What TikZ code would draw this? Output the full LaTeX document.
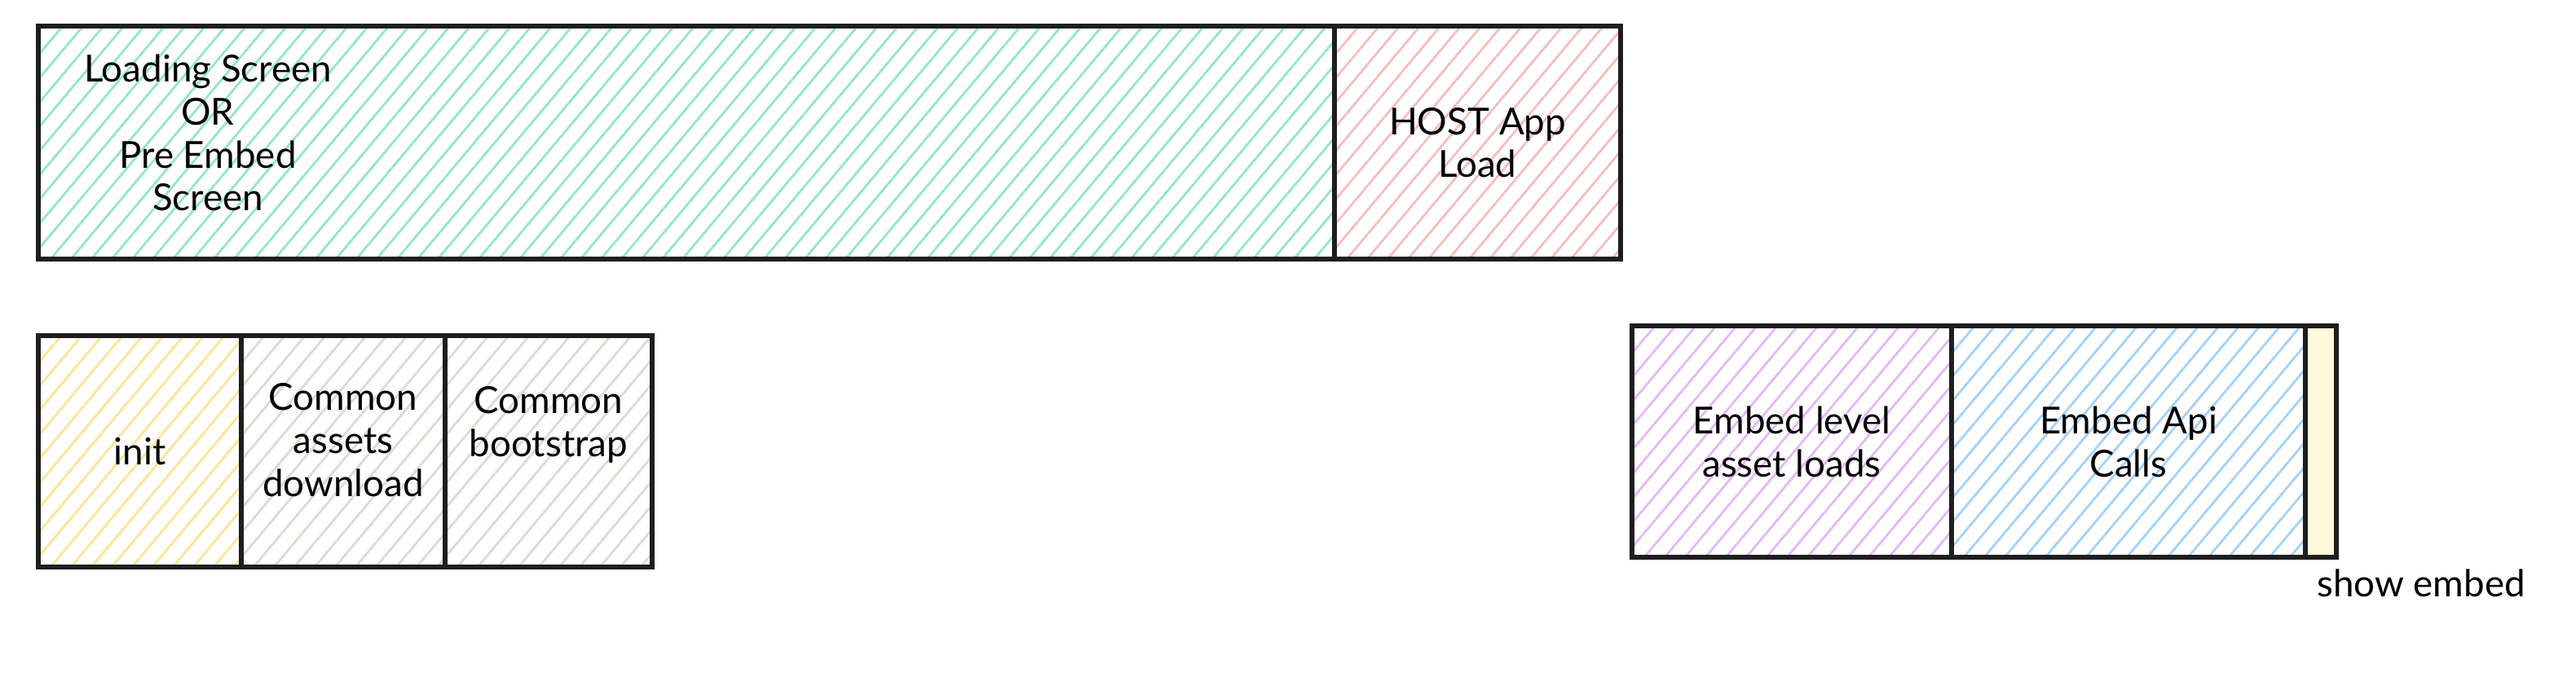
\documentclass[tikz,border=0pt]{standalone}
\usepackage{fontspec}
\setmainfont{Lato}
\usepackage{xcolor}
\usepackage{tikz}
\usetikzlibrary{positioning}

\definecolor{edge}{HTML}{1E1E1E}
\definecolor{loadgreen}{HTML}{96E6C8}
\definecolor{hostred}{HTML}{F4C0BE}
\definecolor{inityellow}{HTML}{FBE59A}
\definecolor{commongrey}{HTML}{E2D8D2}
\definecolor{embedpurple}{HTML}{E4BAF4}
\definecolor{apiblue}{HTML}{A6D2F7}
\definecolor{showfill}{HTML}{FFF9DC}

\tikzset{
	phase/.style={draw=edge, line width=1.6pt, outer sep=0pt, inner sep=2pt, align=center,
		minimum height=2.84cm, font=\fontsize{13}{15}\selectfont},
	hatch/.style={path picture={
		\foreach \k in {0,...,76}
			\draw[#1, line width=0.8pt] ([xshift=\k*2.5mm-26mm]path picture bounding box.south west) -- ++(50:4);
	}}
}

\begin{document}
\begin{tikzpicture}
		\useasboundingbox (0,0) rectangle (31.6,8.3);

		\node[phase, hatch=loadgreen, anchor=west, minimum width=15.9cm, minimum height=2.86cm] (loading) at (0.47,6.55) {};
		\node[phase, hatch=hostred, right=0pt of loading, minimum width=3.51cm, minimum height=2.86cm] (host) {HOST App\\Load};
		\node[align=center, font=\fontsize{13}{15}\selectfont] (loadtxt) at (2.55,6.67) {Loading Screen\\OR\\Pre Embed\\Screen};

		\node[phase, hatch=inityellow, anchor=west, minimum width=2.49cm] (init) at (0.47,2.76) {init};
		\node[phase, hatch=commongrey, right=0pt of init, minimum width=2.5cm,
			label={[align=center, yshift=1.4mm, font=\fontsize{13}{15}\selectfont]center:{Common\\assets\\download}}] (assets) {};
		\node[phase, hatch=commongrey, right=0pt of assets, minimum width=2.54cm,
			label={[align=center, yshift=3.3mm, font=\fontsize{13}{15}\selectfont]center:{Common\\bootstrap}}] (bootstrap) {};

		\node[phase, hatch=embedpurple, anchor=west, minimum width=3.92cm] (embedlvl) at (20.02,2.88) {Embed level\\asset loads};
		\node[phase, hatch=apiblue, right=0pt of embedlvl, minimum width=4.34cm] (api) {Embed Api\\Calls};
		\node[phase, fill=showfill, right=0pt of api, minimum width=0.38cm] (show) {};
		\node[below right=0.02cm and 0.02cm of show.south west, font=\fontsize{13}{15}\selectfont] (showtxt) {show embed};
	\end{tikzpicture}
\end{document}
